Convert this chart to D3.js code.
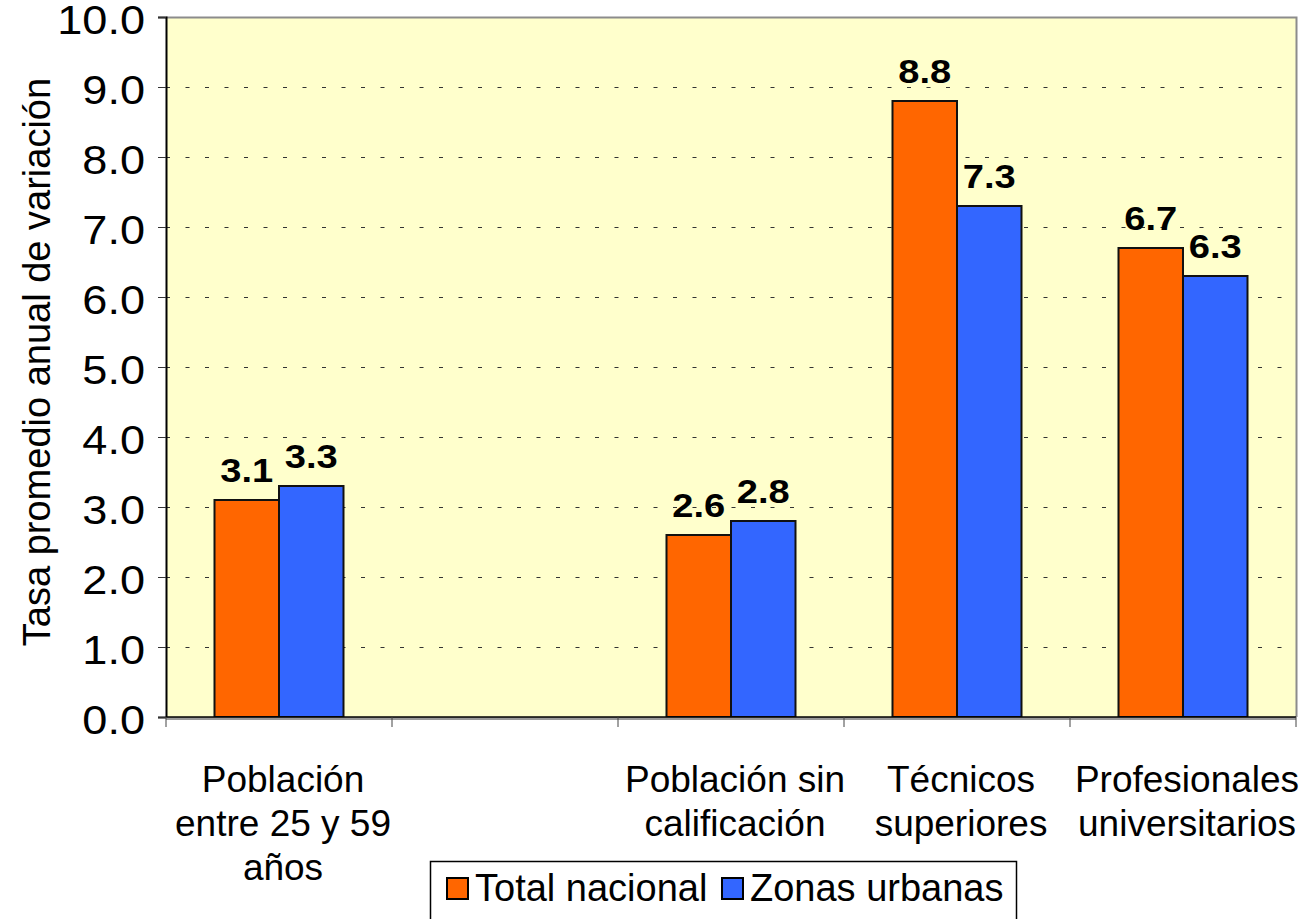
<!DOCTYPE html>
<html>
<head>
<meta charset="utf-8">
<script src="https://cdn.jsdelivr.net/npm/d3@7"></script>
<style>
  body { margin: 0; background: #fff; }
  svg { display: block; font-family: "Liberation Sans", Arial, sans-serif; }
</style>
</head>
<body>
<div id="chart"></div>
<script>
// Données du graphique
const categories = [
  "Población entre 25 y 59 años",
  "",
  "Población sin calificación",
  "Técnicos superiores",
  "Profesionales universitarios"
];
const categoryLines = [
  ["Población", "entre 25 y 59", "años"],
  [],
  ["Población sin", "calificación"],
  ["Técnicos", "superiores"],
  ["Profesionales", "universitarios"]
];
const seriesNames = ["Total nacional", "Zonas urbanas"];
const totalNacional = [3.1, null, 2.6, 8.8, 6.7];
const zonasUrbanas = [3.3, null, 2.8, 7.3, 6.3];
const yTicks = [0, 1, 2, 3, 4, 5, 6, 7, 8, 9, 10];
const yTitle = "Tasa promedio anual de variación";

const colors = ["#FF6600", "#3366FF"];
const W = 1308, H = 919;
const plot = { left: 166, right: 1296, top: 17, bottom: 717 };

// étire le texte horizontalement (les chiffres de la source sont plus larges)
function stretch(sel, f) {
  sel.each(function () {
    const len = this.getComputedTextLength();
    d3.select(this).attr("textLength", len * f).attr("lengthAdjust", "spacingAndGlyphs");
  });
}

const svg = d3.select("#chart").append("svg")
  .attr("width", W)
  .attr("height", H);

// Échelles
const x = d3.scaleBand().domain(d3.range(categories.length))
  .range([plot.left, plot.right]).padding(0);
const xs = d3.scaleBand().domain(seriesNames)
  .range([0, x.bandwidth()]).paddingInner(0).paddingOuter(0.752);
const y = d3.scaleLinear().domain([0, 10]).range([plot.bottom, plot.top]);

// Fond de la zone de tracé
svg.append("rect")
  .attr("x", plot.left).attr("y", plot.top)
  .attr("width", plot.right - plot.left).attr("height", plot.bottom - plot.top)
  .attr("fill", "#FFFFCC");

// Bordure haut / droite (grise)
svg.append("path")
  .attr("d", `M${plot.left},${plot.top + 0.5}H${plot.right + 0.5}V${plot.bottom}`)
  .attr("fill", "none").attr("stroke", "#8c8c8c").attr("stroke-width", 2);

// Quadrillage pointillé
svg.append("g")
  .selectAll("line")
  .data(yTicks.filter(d => d > 0 && d < 10))
  .join("line")
  .attr("x1", plot.left).attr("x2", plot.right)
  .attr("y1", d => Math.round(y(d)) + 0.5).attr("y2", d => Math.round(y(d)) + 0.5)
  .attr("stroke", "#333")
  .attr("stroke-width", 1.2)
  .attr("stroke-dasharray", "4,15.5");

// Barres
const rows = categories.map((c, i) => ({ i, values: [totalNacional[i], zonasUrbanas[i]] }));
const groups = svg.append("g").selectAll("g")
  .data(rows)
  .join("g")
  .attr("transform", d => `translate(${x(d.i)},0)`);

groups.selectAll("rect")
  .data(d => d.values.map((v, k) => ({ v, k })).filter(e => e.v != null))
  .join("rect")
  .attr("x", e => xs(seriesNames[e.k]))
  .attr("y", e => y(e.v))
  .attr("width", xs.bandwidth())
  .attr("height", e => y(0) - y(e.v))
  .attr("fill", e => colors[e.k])
  .attr("stroke", "#111")
  .attr("stroke-width", 2);

groups.selectAll("text")
  .data(d => d.values.map((v, k) => ({ v, k })).filter(e => e.v != null))
  .join("text")
  .attr("x", e => xs(seriesNames[e.k]) + xs.bandwidth() / 2)
  .attr("y", e => y(e.v) - 18)
  .attr("text-anchor", "middle")
  .attr("font-weight", "bold")
  .attr("font-size", 34)
  .text(e => e.v.toFixed(1))
  .call(stretch, 1.12);

// Axe Y
const yAxis = svg.append("g")
  .attr("transform", `translate(${plot.left},0)`)
  .call(d3.axisLeft(y).tickValues(yTicks).tickFormat(d3.format(".1f")).tickSize(8).tickPadding(13));
yAxis.select(".domain").attr("stroke", "#000").attr("stroke-width", 2);
yAxis.selectAll(".tick line").attr("stroke", "#333");
yAxis.selectAll(".tick text")
  .attr("font-size", 41)
  .attr("font-family", "Liberation Sans, Arial, sans-serif")
  .attr("fill", "#000")
  .attr("dy", "0.4em")
  .call(stretch, 1.1);

// Axe X
const xAxis = svg.append("g").attr("transform", `translate(0,${plot.bottom})`);
xAxis.append("line")
  .attr("x1", plot.left).attr("x2", plot.right)
  .attr("y1", 1.5).attr("y2", 1.5)
  .attr("stroke", "#999").attr("stroke-width", 3);
xAxis.append("line")
  .attr("x1", plot.left).attr("x2", plot.right)
  .attr("y1", 0).attr("y2", 0)
  .attr("stroke", "#000").attr("stroke-width", 1.5);
const boundaries = d3.range(categories.length).map(i => x(i)).concat([plot.right]);
xAxis.selectAll("line.tick")
  .data(boundaries)
  .join("line")
  .attr("class", "tick")
  .attr("x1", d => d).attr("x2", d => d)
  .attr("y1", 0).attr("y2", 10)
  .attr("stroke", "#444").attr("stroke-width", 1);

const labels = xAxis.selectAll("text.cat")
  .data(categoryLines)
  .join("text")
  .attr("class", "cat")
  .attr("text-anchor", "middle")
  .attr("font-size", 37)
  .attr("transform", (d, i) => `translate(${x(i) + x.bandwidth() / 2 + 4},0)`);
labels.selectAll("tspan")
  .data(d => d)
  .join("tspan")
  .attr("x", 0)
  .attr("y", (d, k) => 75 + k * 44)
  .text(d => d);

// Titre axe Y
svg.append("text")
  .attr("transform", `translate(50,${(plot.top + plot.bottom) / 2 - 5}) rotate(-90)`)
  .attr("text-anchor", "middle")
  .attr("font-size", 38)
  .text(yTitle);

// Légende
const legend = svg.append("g").attr("transform", "translate(430,861)");
legend.append("rect")
  .attr("x", 0.5).attr("y", 0.5)
  .attr("width", 586).attr("height", 70)
  .attr("fill", "#fff").attr("stroke", "#000").attr("stroke-width", 1.5);
const legendX = [17, 292];
const items = legend.selectAll("g.item")
  .data(seriesNames)
  .join("g")
  .attr("class", "item")
  .attr("transform", (d, i) => `translate(${legendX[i]},0)`);
items.append("rect")
  .attr("x", 0).attr("y", 17)
  .attr("width", 21).attr("height", 21)
  .attr("fill", (d, i) => colors[i])
  .attr("stroke", "#000").attr("stroke-width", 2);
items.append("text")
  .attr("x", 28).attr("y", 40)
  .attr("font-size", 38)
  .text(d => d);
</script>
</body>
</html>
